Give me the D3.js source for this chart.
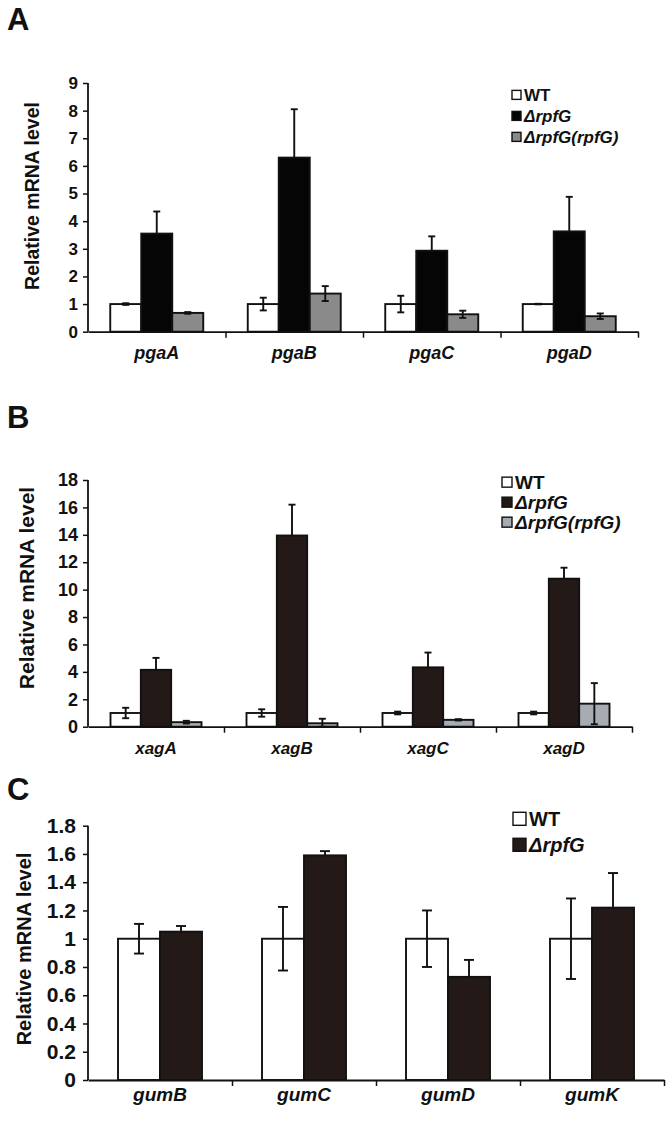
<!DOCTYPE html>
<html>
<head>
<meta charset="utf-8">
<script src="https://cdn.jsdelivr.net/npm/d3@7"></script>
<style>
  html, body { margin: 0; padding: 0; background: #fff; }
  svg { display: block; }
  text { font-family: Arial, "Liberation Sans", Helvetica, sans-serif; font-weight: bold; fill: #111; }
</style>
</head>
<body>
<svg id="chart" width="672" height="1122"></svg>
<script>
// ---------- DATA ----------
// Panel A
const catsA = ["pgaA", "pgaB", "pgaC", "pgaD"];
const seriesA = ["WT", "ΔrpfG", "ΔrpfG(rpfG)"];
const wtA = [1.0, 1.0, 1.0, 1.0];
const wtErrA = [0.03, 0.23, 0.3, 0.01];
const mutA = [3.55, 6.3, 2.93, 3.63];
const mutErrA = [0.8, 1.75, 0.52, 1.25];
const compA = [0.68, 1.38, 0.63, 0.56];
const compErrA = [0.03, 0.27, 0.13, 0.1];
const ticksA = [0, 1, 2, 3, 4, 5, 6, 7, 8, 9];

// Panel B
const catsB = ["xagA", "xagB", "xagC", "xagD"];
const seriesB = ["WT", "ΔrpfG", "ΔrpfG(rpfG)"];
const wtB = [1.0, 1.0, 1.0, 1.0];
const wtErrB = [0.38, 0.27, 0.1, 0.1];
const mutB = [4.15, 13.95, 4.33, 10.8];
const mutErrB = [0.87, 2.25, 1.08, 0.8];
const compB = [0.33, 0.25, 0.5, 1.68];
const compErrB = [0.1, 0.33, 0.05, 1.5];
const ticksB = [0, 2, 4, 6, 8, 10, 12, 14, 16, 18];

// Panel C
const catsC = ["gumB", "gumC", "gumD", "gumK"];
const seriesC = ["WT", "ΔrpfG"];
const wtC = [1.0, 1.0, 1.0, 1.0];
const wtErrC = [0.105, 0.225, 0.2, 0.285];
const mutC = [1.05, 1.59, 0.73, 1.22];
const mutErrC = [0.04, 0.03, 0.12, 0.245];
const ticksC = [0, 0.2, 0.4, 0.6, 0.8, 1, 1.2, 1.4, 1.6, 1.8];

const yTitle = "Relative mRNA level";

// ---------- DRAW ----------
const svg = d3.select("#chart");

function drawPanel(o) {
  const g = svg.append("g");
  const x = d3.scaleBand().domain(o.cats).range([o.x0, o.x1]).padding(0);
  const bw = x.bandwidth();
  const inner = d3.scaleBand().domain(o.series.map((s, i) => i))
    .range([(bw - o.groupW) / 2, (bw + o.groupW) / 2]).padding(0);
  const y = d3.scaleLinear().domain([0, o.ticks[o.ticks.length - 1]]).range([o.y0, o.yTop]);

  // panel letter
  g.append("text").attr("x", o.letterX).attr("y", o.letterY)
    .style("font-size", "31px").text(o.letter);

  // bars
  o.values.forEach((vals, si) => {
    g.append("g").selectAll("rect").data(vals).join("rect")
      .attr("x", (d, i) => x(o.cats[i]) + inner(si))
      .attr("y", d => y(d))
      .attr("width", inner.bandwidth())
      .attr("height", d => y(0) - y(d))
      .attr("fill", o.colors[si])
      .attr("stroke", "#111")
      .attr("stroke-width", 1.9);
  });

  // error bars
  o.values.forEach((vals, si) => {
    const errs = o.errors[si];
    const lower = o.lowerErr[si];
    const eg = g.append("g").attr("stroke", "#111").attr("stroke-width", 1.9);
    vals.forEach((v, i) => {
      const cx = x(o.cats[i]) + inner(si) + inner.bandwidth() / 2;
      const top = y(v + errs[i]);
      const bot = lower ? y(Math.max(v - errs[i], 0)) : y(v);
      eg.append("line").attr("x1", cx).attr("x2", cx).attr("y1", top).attr("y2", bot);
      eg.append("line").attr("x1", cx - o.cap).attr("x2", cx + o.cap).attr("y1", top).attr("y2", top);
      if (lower) eg.append("line").attr("x1", cx - o.cap).attr("x2", cx + o.cap).attr("y1", bot).attr("y2", bot);
    });
  });

  // y axis
  const yAxis = g.append("g").attr("transform", `translate(${o.x0},0)`)
    .call(d3.axisLeft(y).tickValues(o.ticks).tickSize(5).tickPadding(o.tickPad)
      .tickFormat(d3.format("~g")));
  yAxis.attr("font-size", null).attr("font-family", null);
  yAxis.select(".domain").attr("stroke", "#111").attr("stroke-width", 1.8)
    .attr("d", `M0,${o.yTop}V${o.y0}`);
  yAxis.selectAll(".tick line").attr("stroke", "#111").attr("stroke-width", 1.5);
  yAxis.selectAll(".tick text").style("font-size", o.tickFont + "px")
    .style("font-weight", "bold").attr("fill", "#111");

  // x axis: category boundaries
  const xb = d3.scaleLinear().domain([0, o.cats.length]).range([o.x0, o.x1]);
  const xAxis = g.append("g").attr("transform", `translate(0,${o.y0})`)
    .call(d3.axisBottom(xb).tickValues(d3.range(1, o.cats.length + 1)).tickSize(6).tickSizeOuter(0).tickFormat(""));
  xAxis.select(".domain").attr("stroke", "#111").attr("stroke-width", 1.8);
  xAxis.selectAll(".tick line").attr("stroke", "#111").attr("stroke-width", 1.5);

  // category labels
  g.append("g").selectAll("text").data(o.cats).join("text")
    .attr("x", d => x(d) + bw / 2)
    .attr("y", o.catY)
    .attr("text-anchor", "middle")
    .style("font-size", o.catFont + "px")
    .style("font-style", "italic")
    .text(d => d);

  // y title
  g.append("text")
    .attr("transform", `translate(${o.titleX},${o.titleY}) rotate(-90)`)
    .attr("text-anchor", "middle")
    .style("font-size", o.titleFont + "px")
    .text(yTitle);

  // legend
  const lg = g.append("g");
  o.series.forEach((s, i) => {
    const base = o.legY + i * o.legStep;
    const capMid = base - o.legFont * 0.36;
    lg.append("rect").attr("x", o.legX).attr("y", capMid - o.legBox / 2)
      .attr("width", o.legBox).attr("height", o.legBox)
      .attr("fill", o.colors[i]).attr("stroke", "#111").attr("stroke-width", 1.4);
    lg.append("text").attr("x", o.legX + o.legBox + 3).attr("y", base)
      .style("font-size", o.legFont + "px")
      .style("font-style", i === 0 ? "normal" : "italic")
      .text(s);
  });
}

drawPanel({
  letter: "A", letterX: 7, letterY: 30,
  cats: catsA, series: seriesA,
  values: [wtA, mutA, compA], errors: [wtErrA, mutErrA, compErrA], lowerErr: [true, false, true],
  colors: ["#ffffff", "#050505", "#8a8a8a"],
  ticks: ticksA,
  x0: 88, x1: 638, y0: 331.7, yTop: 83, groupW: 93, cap: 3.5,
  tickFont: 17, tickPad: 5, catFont: 18, catY: 359,
  titleX: 39, titleY: 196, titleFont: 19.5,
  legX: 512, legY: 101, legStep: 21, legBox: 9, legFont: 17
});

drawPanel({
  letter: "B", letterX: 7, letterY: 428,
  cats: catsB, series: seriesB,
  values: [wtB, mutB, compB], errors: [wtErrB, mutErrB, compErrB], lowerErr: [true, false, true],
  colors: ["#ffffff", "#231a17", "#a6acb2"],
  ticks: ticksB,
  x0: 88, x1: 632, y0: 726.7, yTop: 480, groupW: 91, cap: 3.5,
  tickFont: 18, tickPad: 5, catFont: 17, catY: 754,
  titleX: 34, titleY: 588, titleFont: 21,
  legX: 502, legY: 489, legStep: 20, legBox: 10, legFont: 19
});

drawPanel({
  letter: "C", letterX: 7, letterY: 800,
  cats: catsC, series: seriesC,
  values: [wtC, mutC], errors: [wtErrC, mutErrC], lowerErr: [true, false],
  colors: ["#ffffff", "#231a17"],
  ticks: ticksC,
  x0: 88, x1: 664, y0: 1080, yTop: 825.7, groupW: 84, cap: 5,
  tickFont: 21, tickPad: 7, catFont: 19, catY: 1101,
  titleX: 31, titleY: 949, titleFont: 20,
  legX: 513, legY: 826, legStep: 26, legBox: 13, legFont: 20
});
</script>
</body>
</html>
